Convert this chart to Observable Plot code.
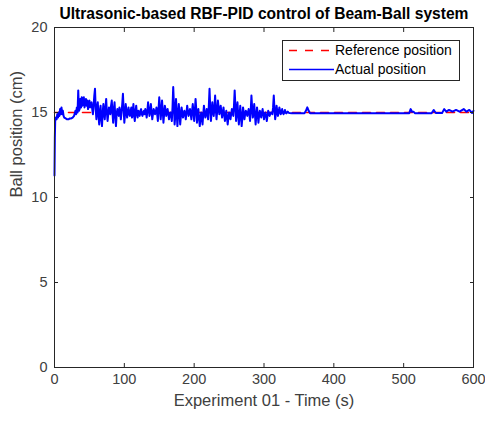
<!DOCTYPE html>
<html><head><meta charset="utf-8">
<script src="https://cdn.jsdelivr.net/npm/d3@7"></script>
<script src="https://cdn.jsdelivr.net/npm/@observablehq/plot@0.6"></script>
<style>
body{margin:0;background:#fff;font-family:"Liberation Sans",Arial,sans-serif;}
#wrap{position:relative;width:485px;height:421px;}
#legend{position:absolute;left:282px;top:40px;}
</style></head><body><div id="wrap"></div>
<script>
const titleText = "Ultrasonic-based RBF-PID control of Beam-Ball system";
const xLabel = "Experiment 01 - Time (s)";
const yLabel = "Ball position (cm)";
const xTicks = [0, 100, 200, 300, 400, 500, 600];
const yTicks = [0, 5, 10, 15, 20];
const seriesNames = ["Reference position", "Actual position"];

const refTime = [0, 600];
const refValue = [15, 15];

const earlyTime = [0, 0.5, 1, 2, 3, 4, 5, 6, 7, 8, 9, 10, 11, 12, 13, 14, 16, 18, 20, 22, 24, 26, 28];
const earlyValue = [11.3, 13.5, 14.5, 14.7, 14.6, 14.9, 14.7, 15.0, 14.8, 15.2, 14.9, 15.3, 14.9, 15.1, 14.8, 14.7, 14.65, 14.6, 14.6, 14.65, 14.65, 14.7, 14.8];

// dense oscillating section sampled every 1 s from 30 s to 336 s
const denseTime = d3.range(30, 337, 1);
const denseValue = [
  15.1, 14.9, 15.3, 15.0, 16.3, 15.1, 15.2, 15.8, 15.3, 15.9,
  15.4, 15.7, 15.9, 15.3, 15.6, 15.8, 15.4, 15.7, 15.2, 15.6,
  15.7, 15.3, 15.5, 15.6, 15.2, 14.9, 15.4, 16.0, 16.4, 15.2,
  14.6, 15.3, 15.6, 14.8, 14.3, 15.1, 15.4, 14.6, 14.2, 15.0,
  15.5, 14.9, 14.6, 15.3, 15.8, 15.0, 14.5, 14.9, 15.3, 15.1,
  14.9, 15.4, 15.7, 15.0, 14.4, 15.2, 15.6, 14.8, 14.2, 14.9,
  15.2, 15.0, 14.8, 15.3, 15.1, 14.6, 15.0, 15.5, 16.1, 15.2,
  14.4, 14.9, 15.5, 15.1, 14.7, 15.0, 15.3, 14.9, 14.8, 15.1,
  15.3, 14.7, 15.0, 15.5, 14.8, 14.5, 15.1, 15.4, 14.9, 14.7,
  15.1, 15.0, 14.8, 15.1, 15.2, 14.9, 14.8, 15.0, 15.1, 14.9,
  15.2, 15.0, 14.7, 15.1, 15.6, 15.2, 14.8, 15.0, 15.5, 15.1,
  14.6, 14.9, 15.2, 15.1, 14.9, 15.0, 15.3, 14.9, 14.5, 15.2,
  15.9, 15.3, 14.6, 15.0, 15.7, 15.1, 14.4, 14.9, 15.4, 15.2,
  14.8, 15.0, 15.2, 14.9, 14.6, 14.9, 15.0, 14.8, 14.5, 15.3,
  16.5, 15.5, 14.3, 14.8, 15.8, 15.0, 14.2, 14.9, 15.5, 15.0,
  14.3, 14.8, 15.3, 15.0, 14.7, 14.9, 15.1, 14.9, 14.6, 15.0,
  15.4, 15.1, 14.8, 15.0, 15.2, 14.9, 14.6, 15.1, 15.5, 15.0,
  14.5, 15.1, 15.8, 15.2, 14.4, 14.8, 15.2, 14.7, 14.2, 14.6,
  15.0, 14.7, 14.3, 14.9, 15.4, 15.0, 14.7, 14.9, 15.2, 14.9,
  14.6, 15.4, 16.4, 15.3, 14.5, 15.0, 15.6, 15.1, 14.8, 15.3,
  16.0, 15.2, 14.6, 15.1, 15.7, 15.3, 14.9, 15.1, 15.4, 15.0,
  14.7, 15.0, 15.3, 14.9, 14.5, 14.8, 15.1, 14.7, 14.3, 14.7,
  15.0, 14.8, 14.6, 14.9, 15.2, 15.0, 14.8, 15.4, 16.3, 15.4,
  14.5, 15.0, 15.6, 14.9, 14.3, 14.8, 15.4, 14.8, 14.2, 14.7,
  15.3, 15.0, 14.6, 14.9, 15.1, 15.0, 14.8, 15.0, 15.2, 14.9,
  14.5, 15.1, 16.0, 15.3, 14.7, 15.0, 15.5, 14.9, 14.3, 14.8,
  15.3, 14.9, 14.4, 14.8, 15.1, 14.9, 14.7, 15.0, 15.2, 14.9,
  14.6, 14.9, 15.0, 14.8, 14.5, 14.8, 15.1, 15.0, 14.8, 14.9,
  15.0, 15.0, 14.9, 15.3, 16.0, 15.2, 14.6, 14.9, 15.4, 15.1,
  14.8, 15.0, 15.3, 15.1, 14.9, 15.0, 15.2, 15.0, 14.9, 15.0,
  15.15, 15.0, 14.95, 15.0, 15.05, 15.0, 14.97
];

const tailTime = [340, 358, 360, 362, 364, 366, 508, 510, 512, 514, 516, 540, 543, 546, 555, 558, 561, 565, 570, 575, 580, 586, 590, 594, 598, 600];
const tailValue = [14.96, 14.96, 15.1, 15.3, 15.1, 14.96, 14.96, 15.2, 15.05, 15.05, 14.96, 14.96, 15.15, 14.97, 14.97, 15.2, 15.05, 15.15, 15.05, 15.15, 15.05, 15.2, 15.05, 15.15, 14.97, 15.1];

const actual = [
  ...earlyTime.map((t, i) => ({t, v: earlyValue[i]})),
  ...denseTime.map((t, i) => ({t, v: denseValue[i]})),
  ...tailTime.map((t, i) => ({t, v: tailValue[i]}))
];
const reference = refTime.map((t, i) => ({t, v: refValue[i]}));

const axisColor = "#262626";
const textColor = "#404040";
const font = "Liberation Sans, Arial, Helvetica, sans-serif";

const chart = Plot.plot({
  width: 485, height: 421,
  marginLeft: 54, marginRight: 12, marginTop: 27, marginBottom: 54,
  style: {fontFamily: font, background: "#fff", overflow: "visible"},
  x: {domain: [0, 600]},
  y: {domain: [0, 20]},
  marks: [
    Plot.line(reference, {x: "t", y: "v", stroke: "#ff0000", strokeWidth: 1.6, strokeDasharray: "8,6"}),
    Plot.line(actual, {x: "t", y: "v", stroke: "#0000ff", strokeWidth: 2, strokeLinejoin: "round"}),
    Plot.frame({stroke: axisColor, strokeWidth: 1}),
    Plot.axisX({ticks: xTicks, anchor: "bottom", tickSize: -4, tickFormat: () => "", stroke: axisColor, label: null}),
    Plot.axisX({ticks: xTicks, anchor: "top", tickSize: -4, tickFormat: () => "", stroke: axisColor, label: null}),
    Plot.axisY({ticks: yTicks, anchor: "left", tickSize: -4, tickFormat: () => "", stroke: axisColor, label: null}),
    Plot.axisY({ticks: yTicks, anchor: "right", tickSize: -4, tickFormat: () => "", stroke: axisColor, label: null}),
    Plot.axisX({ticks: xTicks, anchor: "bottom", tickSize: 0, tickPadding: 6, fontSize: 14.5, fill: textColor, label: null}),
    Plot.axisY({ticks: yTicks, anchor: "left", tickSize: 0, tickPadding: 7, fontSize: 14.5, fill: textColor, label: null}),
    Plot.text([xLabel], {frameAnchor: "bottom", dy: 38, fontSize: 16.5, fill: textColor}),
    Plot.text([yLabel], {frameAnchor: "left", dx: -38, rotate: -90, fontSize: 16.5, fill: textColor}),
    Plot.text([titleText], {frameAnchor: "top", dy: -20, fontSize: 15.6, fontWeight: "bold", fill: "#000"})
  ]
});
const wrap = document.getElementById("wrap");
wrap.appendChild(chart);

// legend overlay
const lg = d3.select(wrap).append("svg").attr("id", "legend").attr("width", 179).attr("height", 41);
lg.append("rect").attr("x", 0.5).attr("y", 0.5).attr("width", 177).attr("height", 40).attr("fill", "#fff").attr("stroke", axisColor);
const styles = [{stroke: "#ff0000", dash: "8,8"}, {stroke: "#0000ff", dash: null}];
seriesNames.forEach((name, i) => {
  const cy = 10.5 + i * 19;
  lg.append("line").attr("x1", 7).attr("x2", 52).attr("y1", cy).attr("y2", cy)
    .attr("stroke", styles[i].stroke).attr("stroke-width", 1.6).attr("stroke-dasharray", styles[i].dash);
  lg.append("text").attr("x", 53).attr("y", cy).attr("dy", "0.35em")
    .attr("font-family", font).attr("font-size", 14).attr("fill", "#000").text(name);
});
</script>
</body></html>
